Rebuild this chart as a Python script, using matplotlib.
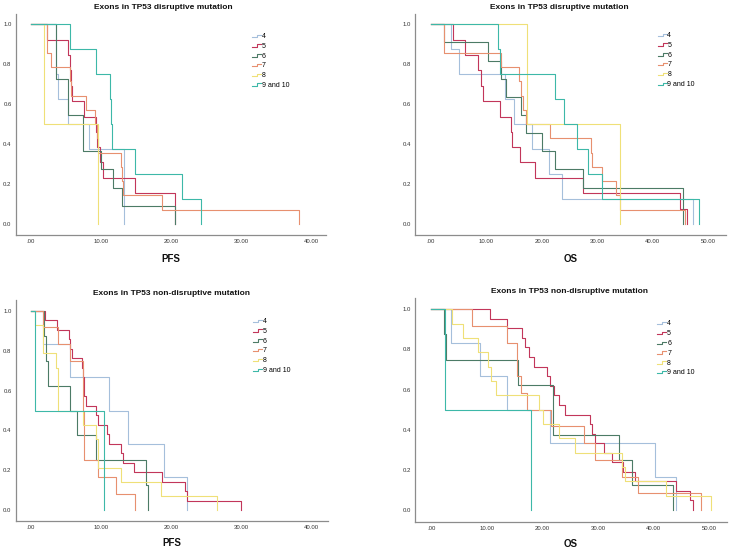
import numpy as np
import matplotlib
matplotlib.use('Agg')
import matplotlib.pyplot as plt
from matplotlib.lines import Line2D
from matplotlib.legend_handler import HandlerBase

plt.rcParams['font.family'] = ['Liberation Sans', 'DejaVu Sans']

groups = ['4', '5', '6', '7', '8', '9 and 10']
colors = ['#a5bfdb', '#c2365a', '#4c7b66', '#e7906f', '#efe078', '#3db8a8']

# ---- PFS, disruptive ----
pfs_dis_t4 = [0, 3.6, 3.9, 5.3, 8.3, 13.2]
pfs_dis_s4 = [1, .75, .625, .5, .375, 0]
pfs_dis_t5 = [0, 2.3, 5.3, 5.5, 5.7, 5.9, 7.6, 9.2, 9.4, 9.9, 10.3, 14.9, 20.6]
pfs_dis_s5 = [1, .923, .846, .769, .692, .615, .538, .462, .385, .308, .231, .154, 0]
pfs_dis_t6 = [0, 3.6, 5.3, 7.4, 10.0, 11.7, 13.0, 20.6]
pfs_dis_s6 = [1, .727, .545, .364, .273, .182, .091, 0]
pfs_dis_t7 = [0, 2.2, 2.9, 5.5, 5.7, 7.9, 9.1, 9.4, 9.6, 12.9, 13.0, 13.1, 18.7, 38.2]
pfs_dis_s7 = [1, .857, .786, .714, .643, .571, .5, .429, .357, .286, .214, .143, .071, 0]
pfs_dis_t8 = [0, 1.9, 9.6]
pfs_dis_s8 = [1, .5, 0]
pfs_dis_t9 = [0, 5.5, 9.3, 11.2, 11.4, 11.6, 14.9, 21.6, 24.2]
pfs_dis_s9 = [1, .875, .75, .625, .5, .375, .25, .125, 0]

# ---- OS, disruptive ----
os_dis_t4 = [0, 3.7, 5.1, 13.4, 14.9, 18.2, 21.2, 23.7, 47.3]
os_dis_s4 = [1, .875, .75, .625, .5, .375, .25, .125, 0]
os_dis_t5 = [0, 3.9, 6.1, 8.5, 9.0, 9.4, 12.4, 14.4, 14.6, 16.0, 18.7, 27.5, 44.9, 46.1]
os_dis_s5 = [1, .923, .846, .769, .692, .615, .538, .462, .385, .308, .231, .154, .077, 0]
os_dis_t6 = [0, 2.3, 10.3, 12.6, 13.6, 16.3, 17.1, 20.1, 22.4, 27.5, 45.5]
os_dis_s6 = [1, .909, .818, .727, .636, .545, .455, .364, .273, .182, 0]
os_dis_t7 = [0, 2.3, 12.6, 15.9, 16.2, 16.6, 17.2, 21.4, 28.9, 29.1, 30.8, 33.3, 34.1, 45.8]
os_dis_s7 = [1, .857, .786, .714, .643, .571, .5, .429, .357, .286, .214, .143, .071, 0]
os_dis_t8 = [0, 17.4, 34.1]
os_dis_s8 = [1, .5, 0]
os_dis_t9 = [0, 12.1, 12.4, 22.4, 23.9, 26.3, 28.4, 30.8, 48.4]
os_dis_s9 = [1, .875, .75, .625, .5, .375, .25, .125, 0]

# ---- PFS, non-disruptive ----
pfs_non_t4 = [0, 1.75, 5.5, 11.2, 13.8, 19.0, 22.3]
pfs_non_s4 = [1, .833, .667, .5, .333, .167, 0]
pfs_non_t5 = [0, 2.0, 3.7, 5.4, 5.6, 5.8, 7.3, 7.4, 7.5, 7.6, 7.8, 9.3, 9.5, 10.8, 11.1,
              12.9, 13.1, 14.7, 18.7, 22.0, 22.3, 30.0]
pfs_non_s5 = [1, .952, .905, .857, .810, .762, .714, .667, .619, .571, .524, .476, .429, .381, .333,
              .286, .238, .190, .143, .095, .048, 0]
pfs_non_t6 = [0, 1.9, 2.1, 2.4, 5.5, 6.6, 9.3, 16.4, 16.7]
pfs_non_s6 = [1, .875, .75, .625, .5, .375, .25, .125, 0]
pfs_non_t7 = [0, 1.75, 3.9, 5.6, 7.4, 7.6, 9.5, 12.1, 14.9]
pfs_non_s7 = [1, .917, .833, .75, .5, .25, .167, .083, 0]
pfs_non_t8 = [0, 0.6, 1.75, 3.5, 3.9, 7.4, 9.3, 9.6, 12.8, 18.6, 26.6]
pfs_non_s8 = [1, .929, .786, .714, .5, .429, .357, .214, .143, .071, 0]
pfs_non_t9 = [0, 0.6, 10.4]
pfs_non_s9 = [1, .5, 0]

# ---- OS, non-disruptive ----
os_non_t4 = [0, 3.6, 8.7, 13.6, 21.3, 40.2, 44.0]
os_non_s4 = [1, .833, .667, .5, .333, .167, 0]
os_non_t5 = [0, 10.5, 13.6, 16.3, 16.9, 17.5, 18.4, 20.8, 21.3, 22.0, 23.0, 24.1, 28.6, 28.9,
             29.5, 31.0, 32.5, 34.5, 36.6, 44.0, 46.6, 47.0]
os_non_s5 = [1, .952, .905, .857, .810, .762, .714, .667, .619, .571, .524, .476, .429, .381,
             .333, .286, .238, .190, .143, .095, .048, 0]
os_non_t6 = [0, 2.3, 2.7, 15.5, 21.9, 33.7, 36.1, 43.4]
os_non_s6 = [1, .875, .75, .625, .375, .25, .125, 0]
os_non_t7 = [0, 7.3, 13.6, 15.4, 16.2, 17.2, 21.6, 27.4, 29.5, 34.3, 37.2, 48.5]
os_non_s7 = [1, .917, .833, .667, .583, .5, .417, .333, .25, .167, .083, 0]
os_non_t8 = [0, 3.7, 5.7, 8.4, 10.2, 10.8, 11.7, 19.3, 20.0, 22.9, 25.9, 34.3, 34.8, 42.2, 50.3]
os_non_s8 = [1, .929, .857, .786, .714, .643, .571, .5, .429, .357, .286, .214, .143, .071, 0]
os_non_t9 = [0, 2.4, 17.9]
os_non_s9 = [1, .5, 0]

panels = [
    dict(title='Exons in TP53 disruptive mutation', xlabel='PFS',
         curves=[(pfs_dis_t4, pfs_dis_s4), (pfs_dis_t5, pfs_dis_s5), (pfs_dis_t6, pfs_dis_s6),
                 (pfs_dis_t7, pfs_dis_s7), (pfs_dis_t8, pfs_dis_s8), (pfs_dis_t9, pfs_dis_s9)],
         xticks=[0, 10, 20, 30, 40], xlim=(-2.2, 42.1), ylim=(-0.055, 1.054),
         rect=(15.7, 13.5, 326, 235), tx=0.475, leg=(0.761, 0.912), lpad=7),
    dict(title='Exons in TP53 disruptive mutation', xlabel='OS',
         curves=[(os_dis_t4, os_dis_s4), (os_dis_t5, os_dis_s5), (os_dis_t6, os_dis_s6),
                 (os_dis_t7, os_dis_s7), (os_dis_t8, os_dis_s8), (os_dis_t9, os_dis_s9)],
         xticks=[0, 10, 20, 30, 40, 50], xlim=(-2.88, 53.2), ylim=(-0.055, 1.054),
         rect=(415, 13.5, 726, 235), tx=0.463, leg=(0.78, 0.916), lpad=7),
    dict(title='Exons in TP53 non-disruptive mutation', xlabel='PFS',
         curves=[(pfs_non_t4, pfs_non_s4), (pfs_non_t5, pfs_non_s5), (pfs_non_t6, pfs_non_s6),
                 (pfs_non_t7, pfs_non_s7), (pfs_non_t8, pfs_non_s8), (pfs_non_t9, pfs_non_s9)],
         xticks=[0, 10, 20, 30, 40], xlim=(-2.2, 42.4), ylim=(-0.054, 1.054),
         rect=(15.7, 300, 327.7, 521), tx=0.5, leg=(0.76, 0.918), lpad=5.5),
    dict(title='Exons in TP53 non-disruptive mutation', xlabel='OS',
         curves=[(os_non_t4, os_non_s4), (os_non_t5, os_non_s5), (os_non_t6, os_non_s6),
                 (os_non_t7, os_non_s7), (os_non_t8, os_non_s8), (os_non_t9, os_non_s9)],
         xticks=[0, 10, 20, 30, 40, 50], xlim=(-2.95, 53.2), ylim=(-0.058, 1.055),
         rect=(415, 298.3, 727, 521.7), tx=0.494, leg=(0.777, 0.901), lpad=5.5),
]


class StepHandler(HandlerBase):
    def create_artists(self, legend, orig_handle, xdescent, ydescent, width, height, fontsize, trans):
        x0, y0 = -xdescent, -ydescent
        xs = [x0, x0 + 0.55 * width, x0 + 0.55 * width, x0 + width]
        ys = [y0 + 0.2 * height, y0 + 0.2 * height, y0 + 0.7 * height, y0 + 0.7 * height]
        ln = Line2D(xs, ys, color=orig_handle.get_color(), lw=orig_handle.get_linewidth())
        ln.set_transform(trans)
        return [ln]


W, H = 729, 549
fig = plt.figure(figsize=(W / 100, H / 100), dpi=100)

for p in panels:
    l, t, r, b = p['rect']
    ax = fig.add_axes([l / W, 1 - b / H, (r - l) / W, (b - t) / H])
    handles = []
    for (tt, ss), c in zip(p['curves'], colors):
        ln, = ax.step(tt, ss, where='post', color=c, lw=0.8)
        handles.append(ln)

    ax.set_xlim(*p['xlim'])
    ax.set_ylim(*p['ylim'])
    ax.set_xticks(p['xticks'])
    ax.set_xticklabels(['.00' if v == 0 else '%.2f' % v for v in p['xticks']])
    ax.set_yticks([0, 0.2, 0.4, 0.6, 0.8, 1.0])
    ax.set_yticklabels(['0.0', '0.2', '0.4', '0.6', '0.8', '1.0'])
    ax.tick_params(length=0, labelsize=4.3, colors='#333333', pad=3)
    for s in ['top', 'right']:
        ax.spines[s].set_visible(False)
    for s in ['left', 'bottom']:
        ax.spines[s].set_color('#8c8c8c')
        ax.spines[s].set_linewidth(0.9)

    ax.set_title(p['title'], fontsize=6, fontweight='bold', x=p['tx'], pad=3.5, color='#111111')
    ax.set_xlabel(p['xlabel'], fontsize=7, fontweight='bold', labelpad=p['lpad'], color='#111111')

    ax.legend(handles, groups, handler_map={Line2D: StepHandler()}, loc='upper left',
              bbox_to_anchor=p['leg'], frameon=False, fontsize=5, handlelength=1.3,
              handletextpad=0.1, labelspacing=0.4, borderpad=0, borderaxespad=0)

plt.savefig('out.png', dpi=100)
plt.close()
